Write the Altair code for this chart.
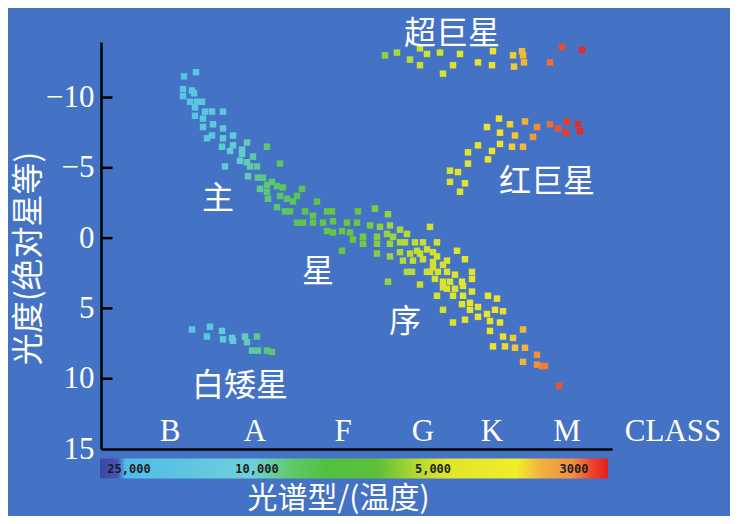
import altair as alt
import pandas as pd

# ---- data (spectral position 0..102, absolute magnitude) ----
ms_spec = [19.2, 16.8, 16.6, 16.6, 18.4, 18.8, 18.0, 19.4, 20.4, 19.0, 21.0, 22.4, 24.6, 19.0, 20.6,
           22.6, 20.6, 24.6, 22.4, 21.4, 24.6, 26.6, 26.6, 24.4, 26.0, 28.4, 29.4, 28.4, 33.4, 30.6,
           28.0, 29.4, 25.0, 30.0, 31.4, 36.0, 29.6, 31.6, 32.6, 33.4, 34.4, 35.4, 36.6, 32.0, 33.4,
           40.4, 39.4, 36.0, 33.6, 37.4, 43.4, 38.6, 35.4, 37.0, 38.0, 41.0, 42.6, 39.4, 40.6, 42.6,
           44.6, 45.4,
           46.4, 51.6, 55.0, 57.6, 46.6, 49.4, 51.4, 45.4, 46.6, 48.4, 50.0, 54.0, 56.0, 58.0, 60.0,
           66.0, 50.6, 52.6, 55.4, 57.4, 58.6, 61.4, 52.6, 55.4, 58.0, 60.0, 61.0, 63.0, 64.6, 67.4,
           48.4, 55.4, 58.0, 60.0, 62.0, 63.4, 65.4, 67.4, 69.4, 60.6, 62.6, 64.6, 66.6, 68.6, 61.4,
           66.0, 67.6, 69.4, 57.6, 64.0, 67.0, 68.6, 69.4, 67.4,
           64.0, 66.6, 71.4, 73.0, 62.4, 65.4, 66.6, 71.0, 74.4, 70.0, 72.4, 74.4, 68.6, 71.0, 72.6,
           74.4, 70.6, 72.6, 77.6, 79.4, 74.0, 72.4, 68.6, 74.0, 75.6, 79.0, 80.6, 73.0, 75.6, 77.4,
           78.0, 70.6, 80.0, 78.0, 84.6, 80.6, 82.6, 78.6, 81.0, 83.0, 85.0, 87.4, 84.6, 87.4, 88.4,
           89.0, 91.8]
ms_mag = [-11.8, -11.5, -10.6, -10.1, -10.5, -10.3, -9.7, -9.7, -9.7, -9.3, -9.0, -9.0, -9.0, -8.7, -8.5,
          -8.1, -7.9, -7.8, -7.3, -7.1, -7.1, -7.3, -6.6, -6.5, -6.2, -6.3, -6.8, -6.0, -6.5, -5.8,
          -5.5, -5.4, -5.1, -5.1, -5.1, -5.3, -4.4, -4.3, -4.3, -3.8, -4.0, -3.7, -3.6, -3.5, -3.3,
          -3.5, -3.0, -3.0, -2.8, -2.8, -2.6, -2.6, -2.2, -1.9, -1.9, -1.9, -1.6, -1.1, -1.1, -1.1,
          -1.1, -1.9,
          -1.9, -1.9, -2.1, -1.7, -1.2, -1.1, -1.1, -0.5, -0.4, -0.5, -0.4, -0.9, -0.8, -0.9, -0.6,
          -0.8, 0.1, -0.1, -0.1, -0.3, -0.1, -0.3, 0.4, 0.4, 0.4, 0.3, 0.3, 0.3, 0.3, 0.3,
          0.9, 1.1, 1.3, 1.0, 1.1, 0.9, 0.8, 1.3, 1.6, 1.6, 1.6, 1.5, 1.7, 1.9, 2.4,
          2.4, 2.4, 2.4, 3.1, 3.3, 2.9, 3.1, 3.6, 4.1,
          1.1, 1.0, 0.9, 1.5, 2.4, 2.4, 2.1, 2.6, 2.4, 3.1, 3.1, 2.9, 3.5, 3.6, 3.4,
          3.8, 4.1, 4.1, 4.1, 4.3, 4.6, 4.7, 5.1, 5.1, 4.9, 5.1, 5.2, 5.8, 5.6, 5.4,
          5.9, 6.0, 6.0, 6.6, 6.5, 7.0, 7.1, 7.7, 7.7, 7.8, 7.8, 8.3, 8.8, 9.0, 9.1,
          9.1, 10.5]

sg_spec = [57.0, 59.4, 64.0, 65.4, 62.0, 64.0, 68.0, 68.6, 70.6, 72.0, 75.6, 78.6, 78.4, 82.6, 84.4,
           84.6, 82.8, 84.8, 90.0, 92.4, 96.4]
sg_mag = [-13.0, -13.2, -13.5, -13.1, -12.7, -12.3, -13.2, -11.7, -12.3, -13.1, -12.5, -13.3, -12.3, -13.0, -13.3,
          -13.0, -12.2, -12.5, -12.5, -13.6, -13.4]

rg_spec = [79.8, 82.0, 85.0, 87.4, 90.0, 91.6, 93.4, 95.6, 96.0, 93.2, 77.4, 80.0, 83.0, 86.6, 80.0,
           82.4, 84.6, 78.4, 75.6, 73.6, 77.6, 73.6, 70.0, 71.6, 70.0, 73.0, 72.0]
rg_mag = [-8.5, -8.1, -8.3, -7.9, -8.1, -7.8, -8.3, -8.1, -7.6, -7.5, -7.9, -7.5, -7.3, -7.2, -6.7,
          -6.5, -6.5, -6.2, -6.6, -6.1, -5.6, -5.3, -4.8, -4.7, -4.0, -3.9, -3.3]

wd_spec = [18.4, 21.4, 22.0, 24.4, 24.6, 26.4, 26.6, 29.0, 29.4, 31.4, 30.4, 31.6, 33.4, 34.4]
wd_mag = [6.5, 7.0, 6.3, 6.6, 7.2, 7.1, 7.3, 7.0, 7.4, 7.0, 8.0, 8.0, 8.0, 8.1]

mag_ticks = [-10, -5, 0, 5, 10, 15]
inner_ticks = [-10, -5, 0, 5, 10]
tick_from, tick_to = 0.2, 2.5   # spectral span of the inward tick marks

class_names = ["B", "A", "F", "G", "K", "M", "CLASS"]
class_spec = [14.0, 31.0, 48.6, 64.6, 78.4, 93.4, 114.6]
class_mag = 13.8

temp_labels = ["25,000", "10,000", "5,000", "3000"]
temp_spec = [5.8, 31.4, 66.6, 94.8]
temp_mag = 16.4

note_text = ["超巨星", "红巨星", "主", "星", "序", "白矮星"]
note_spec = [70.4, 89.4, 23.6, 43.6, 61.0, 28.0]
note_mag = [-14.55, -4.0, -2.8, 2.4, 6.0, 10.5]

# colour along the spectral sequence
col_stops = [0, 4, 5, 20, 28, 33, 40, 52, 58, 64, 72, 80, 84, 88, 91, 94, 102]
col_range = ["#3b4aa8", "#4b5cc0", "#4fc0e8", "#58c8e0", "#62ccd0", "#5cc878", "#5cc450", "#6cc83c",
             "#9cd440", "#c8de34", "#e2e42c", "#f0e22c", "#f0c034", "#f08a34", "#f06030", "#e83028",
             "#d82020"]

bar_offsets = [0, 0.035, 0.05, 0.30, 0.38, 0.45, 0.55, 0.62, 0.68, 0.82, 0.87, 0.93, 0.97, 1.0]
bar_colors = ["#3a46a0", "#4656b8", "#50bce8", "#6ed0d8", "#60c868", "#50c040", "#60c038", "#b0d830",
              "#e0e428", "#f0ee2a", "#f0b040", "#f09040", "#f04030", "#e02020"]

stars = pd.DataFrame({
    "spec": ms_spec + sg_spec + rg_spec + wd_spec,
    "mag": ms_mag + sg_mag + rg_mag + wd_mag,
})

BG = "#4472c4"
XS = alt.Scale(domain=[0.2, 102.4], nice=False, zero=False)
YS = alt.Scale(domain=[-13.95, 15], reverse=True, nice=False, zero=False)

AX = alt.Axis(
    title="光谱型/(温度)", labels=False, ticks=False, grid=False,
    domainColor="black", domainWidth=2.5,
    titleFont="Noto Sans CJK SC", titleFontSize=30, titleColor="white",
    titleFontWeight="normal", titleX=237, titleY=49,
    titleBaseline="middle", titleAlign="center")
AY = alt.Axis(
    values=mag_ticks, ticks=False, grid=False,
    labelFont="Liberation Serif", labelFontSize=31, labelColor="white",
    labelPadding=7, labelFlush=False, labelOverlap=False,
    domainColor="black", domainWidth=2.5,
    title="光度(绝对星等)", titleFont="Noto Sans CJK SC", titleFontSize=32,
    titleColor="white", titleFontWeight="normal", titleAngle=270,
    titleX=-73, titleY=216, titleBaseline="middle", titleAlign="center")


def xenc(field="spec"):
    return alt.X(f"{field}:Q", scale=XS, axis=AX, title="光谱型/(温度)")


def yenc(field="mag"):
    return alt.Y(f"{field}:Q", scale=YS, axis=AY, title="光度(绝对星等)")


points = alt.Chart(stars).mark_square(size=42, opacity=1, filled=True).encode(
    x=xenc(), y=yenc(),
    color=alt.Color("spec:Q", scale=alt.Scale(domain=col_stops, range=col_range, interpolate="rgb"),
                    legend=None),
)

bar_df = pd.DataFrame({"x0": [0.0], "x1": [101.6], "m0": [15.67], "m1": [17.09]})
colorbar = alt.Chart(bar_df).mark_rect(
    clip=False,
    color=alt.Gradient(gradient="linear", x1=0, x2=1, y1=0, y2=0,
                       stops=[alt.GradientStop(offset=o, color=c) for o, c in zip(bar_offsets, bar_colors)]),
).encode(x=xenc("x0"), x2="x1:Q", y=yenc("m0"), y2="m1:Q")

temp_text = alt.Chart(pd.DataFrame({"t": temp_labels, "spec": temp_spec, "mag": [temp_mag] * 4})).mark_text(
    clip=False, font="DejaVu Sans Mono", fontSize=12, fontWeight="bold", color="#1e1e1e",
    baseline="middle", align="center").encode(x=xenc(), y=yenc(), text="t:N")

class_text = alt.Chart(pd.DataFrame({"t": class_names, "spec": class_spec,
                                     "mag": [class_mag] * len(class_names)})).mark_text(
    clip=False, font="Liberation Serif", fontSize=31, color="white",
    baseline="middle", align="center").encode(x=xenc(), y=yenc(), text="t:N")

notes = alt.Chart(pd.DataFrame({"t": note_text, "spec": note_spec, "mag": note_mag})).mark_text(
    clip=False, font="Noto Sans CJK SC", fontSize=32, color="white",
    baseline="middle", align="center").encode(x=xenc(), y=yenc(), text="t:N")

ticks = alt.Chart(pd.DataFrame({"mag": inner_ticks})).mark_rule(
    color="black", strokeWidth=2.5).encode(
    y=yenc(), x=alt.datum(tick_from), x2=alt.datum(tick_to),
)

chart = alt.layer(points, colorbar, temp_text, class_text, notes, ticks).properties(
    width=511, height=407, background=BG,
    padding={"left": 93, "top": 34, "right": 118, "bottom": 67},
    autosize=alt.AutoSizeParams(type="none"),
).configure_view(stroke=None)

chart.save("out.html", embed_options={"renderer": "svg", "actions": False})
